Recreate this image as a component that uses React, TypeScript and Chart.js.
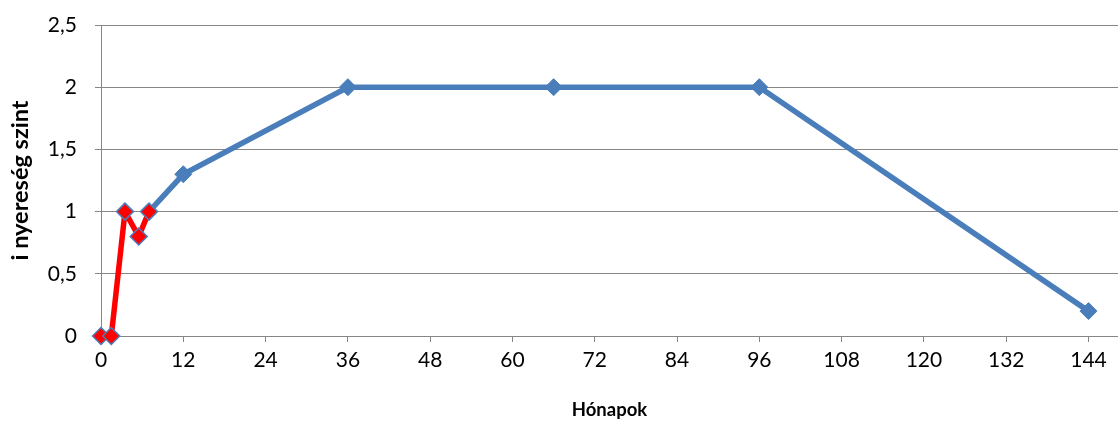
import React, { useEffect, useRef } from "react";
import { Chart, registerables } from "chart.js";

Chart.register(...registerables);

const redMonths = [0, 1.5, 3.5, 5.5, 7];
const redValues = [0, 0, 1, 0.8, 1];
const blueMonths = [7, 12, 36, 66, 96, 144];
const blueValues = [1, 1.3, 2, 2, 2, 0.2];
const xTickValues = [0, 12, 24, 36, 48, 60, 72, 84, 96, 108, 120, 132, 144];
const xTitle = "Hónapok";
const yTitle = "i nyereség szint";

const FONT = "Lato, 'Open Sans', sans-serif";

export default function App() {
  const ref = useRef<HTMLCanvasElement | null>(null);
  useEffect(() => {
    document.body.style.margin = "0";
    const ctx = ref.current!;
    const chart = new Chart(ctx, {
      type: "scatter",
      data: {
        datasets: [
          {
            label: "red",
            data: redMonths.map((x, i) => ({ x, y: redValues[i] })),
            showLine: true,
            clip: false,
            borderColor: "#ff0000",
            borderWidth: 5.5,
            pointStyle: "rectRot",
            pointRadius: 8.5,
            pointBackgroundColor: "#ff0000",
            pointBorderColor: "#4a7ebb",
            pointBorderWidth: 1.5,
            order: 0,
          },
          {
            label: "blue",
            data: blueMonths.map((x, i) => ({ x, y: blueValues[i] })),
            showLine: true,
            clip: false,
            borderColor: "#4a7ebb",
            borderWidth: 5.5,
            pointStyle: "rectRot",
            pointRadius: 8.5,
            pointBackgroundColor: "#4a7ebb",
            pointBorderColor: "#4a7ebb",
            pointBorderWidth: 1,
            order: 1,
          },
        ],
      },
      options: {
        animation: false,
        responsive: false,
        maintainAspectRatio: false,
        layout: { padding: 0, autoPadding: false },
        plugins: { legend: { display: false }, tooltip: { enabled: false } },
        scales: {
          x: {
            type: "linear",
            min: 0,
            max: 148.3,
            afterBuildTicks: (s: any) => {
              s.ticks = xTickValues.map((v) => ({ value: v }));
            },
            afterFit: (s: any) => {
              s.height = 85;
              s.paddingRight = 0;
              s.paddingLeft = 0;
            },
            ticks: {
              autoSkip: false,
              color: "#000",
              font: { family: FONT, size: 21 },
              padding: 6,
              maxRotation: 0,
            },
            grid: {
              drawOnChartArea: false,
              drawTicks: true,
              tickLength: 6,
              color: "#868686",
            },
            border: { color: "#868686", width: 1 },
            title: {
              display: true,
              text: xTitle,
              color: "#000",
              font: { family: FONT, size: 18.5, weight: "bold" },
              padding: { top: 6, bottom: 0 },
            },
          },
          y: {
            type: "linear",
            min: 0,
            max: 2.5,
            afterFit: (s: any) => {
              s.width = 101;
              s.paddingTop = 25;
              s.paddingBottom = 0;
            },
            ticks: {
              stepSize: 0.5,
              color: "#000",
              font: { family: FONT, size: 21 },
              padding: 18,
              callback: (v: any) => String(v).replace(".", ","),
            },
            grid: {
              drawOnChartArea: true,
              tickLength: 6,
              color: "#868686",
            },
            border: { color: "#868686", width: 1 },
            title: {
              display: true,
              text: yTitle,
              color: "#000",
              font: { family: FONT, size: 23.5, weight: "bold" },
              padding: { top: 6, bottom: 4 },
            },
          },
        },
      },
    });
    return () => chart.destroy();
  }, []);
  return (
    <div style={{ width: 1118, height: 421 }}>
      <canvas ref={ref} width={1118} height={421} style={{ display: "block" }} />
    </div>
  );
}
